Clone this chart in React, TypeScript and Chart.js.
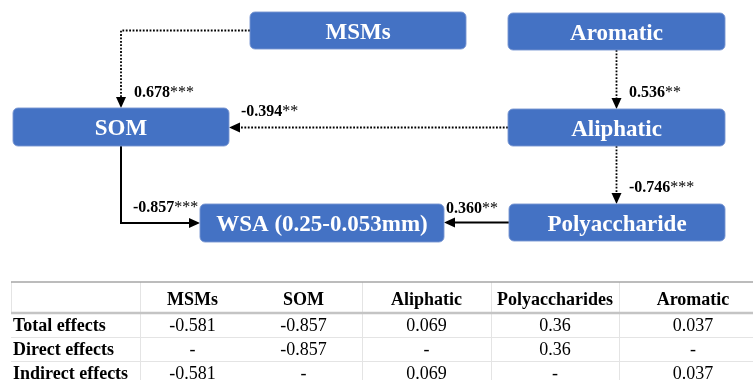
import React, { useEffect, useRef } from 'react';
import { Chart, registerables } from 'chart.js';

Chart.register(...registerables);

const W = 753;
const H = 380;

// ---- path model ----
const pathFrom = ['MSMs', 'Aliphatic', 'Aromatic', 'Aliphatic', 'SOM', 'Polyaccharide'];
const pathTo = ['SOM', 'SOM', 'Aliphatic', 'Polyaccharide', 'WSA (0.25-0.053mm)', 'WSA (0.25-0.053mm)'];
const pathCoef = [0.678, -0.394, 0.536, -0.746, -0.857, 0.36];
const pathSig = ['***', '**', '**', '***', '***', '**'];
const pathSolid = [false, false, false, false, true, true];

// ---- effects table ----
const effectColumns = ['MSMs', 'SOM', 'Aliphatic', 'Polyaccharides', 'Aromatic'];
const effectRows = ['Total effects', 'Direct effects', 'Indirect effects'];
const totalEffects = [-0.581, -0.857, 0.069, 0.36, 0.037];
const directEffects = [null, -0.857, null, 0.36, null];
const indirectEffects = [-0.581, null, 0.069, null, 0.037];

// ---- layout ----
type Box = { x: number; y: number; w: number; h: number };
const boxes: Record<string, Box> = {
  MSMs: { x: 250, y: 12, w: 216, h: 37 },
  Aromatic: { x: 508, y: 13, w: 217, h: 37 },
  SOM: { x: 13, y: 108, w: 216, h: 38 },
  Aliphatic: { x: 508, y: 109, w: 217, h: 37 },
  'WSA (0.25-0.053mm)': { x: 200, y: 204, w: 244, h: 38 },
  Polyaccharide: { x: 509, y: 204, w: 216, h: 37 },
};
// side where each path leaves its source and enters its target
const exitSide = ['left', 'left', 'bottom', 'bottom', 'bottom', 'left'];
const enterSide = ['top', 'right', 'top', 'top', 'left', 'right'];
// label anchors (left, baseline)
const labelPos = [
  [134, 97],
  [241, 116],
  [629, 97],
  [629, 192],
  [133, 212],
  [446, 213],
];
const colEdges = [140, 245, 362, 491, 619, 767];
const tableLeft = 11;
const tableTop = 282;
const headerBottom = 313;
const rowLines = [337, 361];
const headerBase = 305;
const rowBase = [331, 355, 379];

const BLUE = '#4472C4';
const SERIF = '"Liberation Serif", "Times New Roman", serif';
const ARROW_LEN = 11;
const ARROW_HALF = 5;

function anchor(b: Box, side: string) {
  switch (side) {
    case 'left':
      return { x: b.x, y: b.y + b.h / 2 };
    case 'right':
      return { x: b.x + b.w, y: b.y + b.h / 2 };
    case 'top':
      return { x: b.x + b.w / 2, y: b.y };
    default:
      return { x: b.x + b.w / 2, y: b.y + b.h };
  }
}

function route(i: number) {
  const a = boxes[pathFrom[i]];
  const b = boxes[pathTo[i]];
  const s = anchor(a, exitSide[i]);
  const e = anchor(b, enterSide[i]);
  const exitH = exitSide[i] === 'left' || exitSide[i] === 'right';
  const enterH = enterSide[i] === 'left' || enterSide[i] === 'right';
  const pts: { x: number; y: number }[] = [s];
  if (exitH && enterH) {
    pts.push({ x: e.x, y: s.y });
  } else if (!exitH && !enterH) {
    pts.push({ x: s.x, y: e.y });
  } else if (exitH) {
    pts.push({ x: e.x, y: s.y });
    pts.push({ x: e.x, y: e.y });
  } else {
    pts.push({ x: s.x, y: e.y });
    pts.push({ x: e.x, y: e.y });
  }
  return pts;
}

// line stops at the arrowhead's base
function shaft(pts: { x: number; y: number }[]) {
  const out = pts.map((p) => ({ ...p }));
  const n = out.length;
  const p = out[n - 1];
  const q = out[n - 2];
  const dx = p.x - q.x;
  const dy = p.y - q.y;
  const len = Math.hypot(dx, dy) || 1;
  out[n - 1] = { x: p.x - (dx / len) * (ARROW_LEN - 1), y: p.y - (dy / len) * (ARROW_LEN - 1) };
  return out;
}

function fmt(v: number | null) {
  return v === null ? '-' : String(v);
}

const diagramPlugin = {
  id: 'pathDiagram',
  afterDatasetsDraw(chart: any) {
    const ctx: CanvasRenderingContext2D = chart.ctx;
    const xs = chart.scales.x;
    const ys = chart.scales.y;
    const px = (v: number) => xs.getPixelForValue(v);
    const py = (v: number) => ys.getPixelForValue(v);

    ctx.save();

    // arrowheads
    ctx.fillStyle = '#000';
    pathFrom.forEach((_, i) => {
      const pts = route(i);
      const p = pts[pts.length - 1];
      const q = pts[pts.length - 2];
      const tx = px(p.x);
      const ty = py(p.y);
      const dx = tx - px(q.x);
      const dy = ty - py(q.y);
      const len = Math.hypot(dx, dy) || 1;
      const ux = dx / len;
      const uy = dy / len;
      const bx = tx - ux * ARROW_LEN;
      const by = ty - uy * ARROW_LEN;
      ctx.beginPath();
      ctx.moveTo(tx, ty);
      ctx.lineTo(bx - uy * ARROW_HALF, by + ux * ARROW_HALF);
      ctx.lineTo(bx + uy * ARROW_HALF, by - ux * ARROW_HALF);
      ctx.closePath();
      ctx.fill();
    });

    // variable boxes
    Object.keys(boxes).forEach((name) => {
      const b = boxes[name];
      const x0 = px(b.x);
      const y0 = py(b.y);
      const x1 = px(b.x + b.w);
      const y1 = py(b.y + b.h);
      ctx.beginPath();
      ctx.roundRect(x0, y0, x1 - x0, y1 - y0, 5);
      ctx.fillStyle = BLUE;
      ctx.fill();
      ctx.lineWidth = 1;
      ctx.strokeStyle = 'rgba(120,150,210,0.9)';
      ctx.stroke();
      ctx.fillStyle = '#fff';
      ctx.font = `bold 23px ${SERIF}`;
      ctx.textAlign = 'center';
      ctx.textBaseline = 'alphabetic';
      ctx.fillText(name, (x0 + x1) / 2, (y0 + y1) / 2 + 8);
    });

    // coefficient labels
    ctx.textAlign = 'left';
    ctx.fillStyle = '#000';
    pathCoef.forEach((c, i) => {
      const lx = px(labelPos[i][0]);
      const ly = py(labelPos[i][1]);
      const num = c.toFixed(3);
      ctx.font = `bold 16px ${SERIF}`;
      ctx.fillText(num, lx, ly);
      const w = ctx.measureText(num).width;
      ctx.font = `16px ${SERIF}`;
      ctx.fillText(pathSig[i], lx + w, ly);
    });

    // effects table
    ctx.lineWidth = 1;
    ctx.strokeStyle = '#e4e4e4';
    ctx.beginPath();
    ctx.moveTo(px(tableLeft) + 0.5, py(tableTop));
    ctx.lineTo(px(tableLeft) + 0.5, py(headerBottom));
    colEdges.forEach((cx, k) => {
      if (k === 1) return;
      ctx.moveTo(px(cx) + 0.5, py(tableTop));
      ctx.lineTo(px(cx) + 0.5, py(H));
    });
    rowLines.forEach((ry) => {
      ctx.moveTo(px(tableLeft), py(ry) + 0.5);
      ctx.lineTo(px(W), py(ry) + 0.5);
    });
    ctx.stroke();

    ctx.strokeStyle = '#a6a6a6';
    ctx.lineWidth = 1.5;
    ctx.beginPath();
    ctx.moveTo(px(tableLeft), py(tableTop));
    ctx.lineTo(px(W), py(tableTop));
    ctx.stroke();

    ctx.strokeStyle = '#c4c4c4';
    ctx.lineWidth = 2.5;
    ctx.beginPath();
    ctx.moveTo(px(tableLeft), py(headerBottom));
    ctx.lineTo(px(W), py(headerBottom));
    ctx.stroke();

    ctx.fillStyle = '#000';
    ctx.textAlign = 'center';
    ctx.font = `bold 18px ${SERIF}`;
    effectColumns.forEach((col, k) => {
      const cx = (colEdges[k] + colEdges[k + 1]) / 2;
      ctx.fillText(col, px(cx), py(headerBase));
    });

    const rows = [totalEffects, directEffects, indirectEffects];
    rows.forEach((vals, r) => {
      ctx.textAlign = 'left';
      ctx.font = `bold 18px ${SERIF}`;
      ctx.fillText(effectRows[r], px(13), py(rowBase[r]));
      ctx.textAlign = 'center';
      ctx.font = `18px ${SERIF}`;
      vals.forEach((v, k) => {
        const cx = (colEdges[k] + colEdges[k + 1]) / 2;
        ctx.fillText(fmt(v), px(cx), py(rowBase[r]));
      });
    });

    ctx.restore();
  },
};

export default function App() {
  const canvasRef = useRef<HTMLCanvasElement | null>(null);

  useEffect(() => {
    const canvas = canvasRef.current;
    if (!canvas) return;
    const datasets = pathFrom.map((from, i) => ({
      label: `${from} → ${pathTo[i]}`,
      data: shaft(route(i)),
      showLine: true,
      borderColor: '#000',
      borderWidth: pathSolid[i] ? 2 : 1.8,
      borderDash: pathSolid[i] ? [] : [1.8, 1.6],
      pointRadius: 0,
      pointHoverRadius: 0,
      fill: false,
      tension: 0,
    }));
    const chart = new Chart(canvas, {
      type: 'scatter',
      data: { datasets },
      options: {
        animation: false,
        responsive: false,
        layout: { padding: 0 },
        events: [],
        plugins: {
          legend: { display: false },
          tooltip: { enabled: false },
        },
        scales: {
          x: { type: 'linear', min: 0, max: W, display: false },
          y: { type: 'linear', min: 0, max: H, reverse: true, display: false },
        },
      },
      plugins: [diagramPlugin],
    });
    return () => chart.destroy();
  }, []);

  return (
    <div style={{ position: 'absolute', left: 0, top: 0, width: W, height: H, background: '#fff' }}>
      <canvas ref={canvasRef} width={W} height={H} style={{ display: 'block' }} />
    </div>
  );
}
